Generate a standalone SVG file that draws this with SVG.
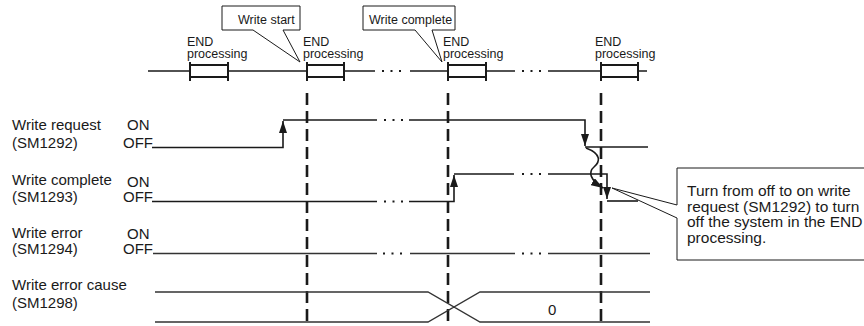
<svg xmlns="http://www.w3.org/2000/svg" width="864" height="326" viewBox="0 0 864 326">
<style>
text{font-family:"Liberation Sans",Arial,sans-serif;fill:#1a1a1a}
.lbl{font-size:15px}
.top{font-size:12.5px}
.ann{font-size:15.5px}
.sig{stroke:#1a1a1a;stroke-width:1.6;fill:none}
.thin{stroke:#333;stroke-width:1.3;fill:none}
.dots{stroke:#1a1a1a;stroke-width:1.8;stroke-dasharray:2 6.5;fill:none}
.vd{stroke:#1a1a1a;stroke-width:2.6;stroke-dasharray:12 6;fill:none}
.box{fill:#fff;stroke:#1a1a1a;stroke-width:2}
.tick{stroke:#1a1a1a;stroke-width:2}
.call{fill:#fff;stroke:#1a1a1a;stroke-width:1}
</style>
<defs>
<marker id="ah" viewBox="0 0 12 8" refX="12" refY="4" markerWidth="12" markerHeight="8" markerUnits="userSpaceOnUse" orient="auto">
<path d="M0,0 L12,4 L0,8 Z" fill="#1a1a1a"/>
</marker>
</defs>

<g id="timeline">
<path class="sig" d="M148,71 H190 M228,71 H307 M344,71 H375 M410,71 H448 M486,71 H515 M548,71 H601 M638,71 H647"/>
<path class="dots" d="M382,71 H404 M522,71 H544"/>
<g id="end1"><rect class="box" x="190" y="65" width="38" height="12"/><path class="tick" d="M190,62 V81 M228,62 V81"/></g>
<g id="end2"><rect class="box" x="307" y="65" width="37" height="12"/><path class="tick" d="M307,62 V81 M344,62 V81"/></g>
<g id="end3"><rect class="box" x="448" y="65" width="38" height="12"/><path class="tick" d="M448,62 V81 M486,62 V81"/></g>
<g id="end4"><rect class="box" x="601" y="65" width="37" height="12"/><path class="tick" d="M601,62 V81 M638,62 V81"/></g>
<text class="top" x="187" y="45.5">END</text><text class="top" x="187" y="58">processing</text>
<text class="top" x="303" y="45.5">END</text><text class="top" x="303" y="58">processing</text>
<text class="top" x="443" y="45.5">END</text><text class="top" x="443" y="58">processing</text>
<text class="top" x="595" y="45.5">END</text><text class="top" x="595" y="58">processing</text>
</g>

<g id="callout-start">
<path class="call" d="M222,6 H300 V30 H283 L300,62 L253,30 H222 Z"/>
<text class="top" x="238" y="24">Write start</text>
</g>
<g id="callout-complete">
<path class="call" d="M363,6 H455 V30 H432 L442,62 L415,30 H363 Z"/>
<text class="top" x="369" y="24">Write complete</text>
</g>

<g id="guides">
<path class="vd" d="M307,93 V326 M448,93 V326 M601,93 V326"/>
</g>

<g id="labels">
<text class="lbl" x="12" y="130">Write request</text><text class="lbl" x="12" y="148">(SM1292)</text>
<text class="lbl" x="127" y="130">ON</text><text class="lbl" x="123" y="148">OFF</text>
<text class="lbl" x="12" y="185">Write complete</text><text class="lbl" x="12" y="202">(SM1293)</text>
<text class="lbl" x="127" y="187">ON</text><text class="lbl" x="123" y="202">OFF</text>
<text class="lbl" x="12" y="238">Write error</text><text class="lbl" x="12" y="254">(SM1294)</text>
<text class="lbl" x="127" y="239">ON</text><text class="lbl" x="123" y="254">OFF</text>
<text class="lbl" x="12" y="290">Write error cause</text><text class="lbl" x="12" y="308">(SM1298)</text>
</g>

<g id="connectors">
<path class="sig" d="M152,147.5 H283 V121" marker-end="url(#ah)"/>
<path class="sig" d="M283,120 H377 M409,120 H585 V146" marker-end="url(#ah)"/>
<path class="dots" d="M384,120 H404"/>
<path class="sig" d="M585,147 H648"/>
<path class="sig" d="M152,201.5 H377 M409,201.5 H454 V175" marker-end="url(#ah)"/>
<path class="dots" d="M384,201.5 H404"/>
<path class="sig" d="M454,174 H514 M548,174 H607 V199" marker-end="url(#ah)"/>
<path class="dots" d="M522,174 H544"/>
<path class="sig" d="M607,201 H638"/>
<path class="sig" d="M586,148 C602,154 600,162 594,167 C588,172 590,180 603,188" marker-end="url(#ah)"/>
<path class="thin" d="M153,253.5 H377 M410,253.5 H515 M548,253.5 H650"/>
<path class="dots" d="M383,253.5 H405 M522,253.5 H544"/>
<path class="thin" d="M155,292 H428 L480,322 H650 M155,322 H428 L480,292 H650"/>
<text class="lbl" x="548" y="315">0</text>
</g>

<g id="annotation">
<path class="call" d="M612,188 L677,205 V168 H870 V260 H677 V218 Z"/>
<text class="ann" x="687" y="196">Turn from off to on write</text>
<text class="ann" x="687" y="211.5">request (SM1292) to turn</text>
<text class="ann" x="687" y="227">off the system in the END</text>
<text class="ann" x="687" y="242.5">processing.</text>
</g>
</svg>
